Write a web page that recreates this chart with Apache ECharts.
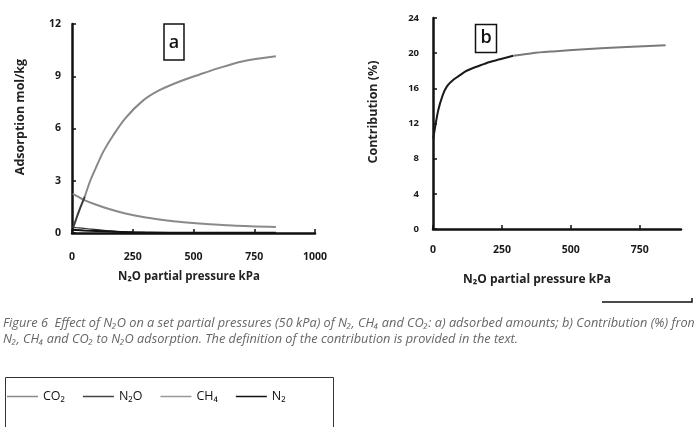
<!DOCTYPE html>
<html><head><meta charset="utf-8">
<script src="https://cdn.jsdelivr.net/npm/echarts@6/dist/echarts.min.js"></script>
<style>html,body{margin:0;padding:0;background:#fff}#c{width:694px;height:427px}</style>
</head><body><div id="c"></div>
<script>
// ---- data ----
const xTicksA = [0, 250, 500, 750, 1000];
const yTicksA = [0, 3, 6, 9, 12];
const xTicksB = [0, 250, 500, 750];
const yTicksB = [0, 4, 8, 12, 16, 20, 24];
const seriesNames = ['CO₂', 'N₂O', 'CH₄', 'N₂'];
const co2A = [[3,2.26],[20,2.12],[46,1.92],[100,1.62],[156,1.36],[220,1.12],[292,0.92],[360,0.78],[429,0.66],[525,0.55],[661,0.43],[839,0.34]];
const n2oA = [[4,0.3],[12,0.6],[30,1.3],[53,2.1],[75,3.0],[100,3.8],[130,4.7],[169,5.6],[220,6.6],[292,7.6],[360,8.2],[443,8.7],[525,9.1],[600,9.45],[700,9.85],[839,10.15]];
const ch4A = [[3,0.32],[20,0.3],[40,0.28],[80,0.22],[130,0.15],[200,0.08],[300,0.04],[500,0.02],[839,0.01]];
const n2A = [[3,0.18],[20,0.17],[50,0.15],[100,0.12],[180,0.07],[250,0.04],[400,0.02],[839,0.01]];
const contribB = [[1,10.3],[19,13.5],[35,15.2],[50,16.2],[75,17.0],[98,17.5],[122,18.0],[170,18.6],[206,19.0],[243,19.3],[291,19.7],[360,20.0],[436,20.2],[550,20.45],[702,20.7],[844,20.9]];
const captionLines = [
  'Figure 6  Effect of N₂O on a set partial pressures (50 kPa) of N₂, CH₄ and CO₂: a) adsorbed amounts; b) Contribution (%) from',
  'N₂, CH₄ and CO₂ to N₂O adsorption. The definition of the contribution is provided in the text.'
];

const FF = '"Open Sans", Lato, sans-serif';
const chart = echarts.init(document.getElementById('c'));
// the reference draws the start of these curves darker: split each at a data point
const splitAt = (arr, x) => [arr.filter(p => p[0] <= x), arr.filter(p => p[0] >= x)];
const [n2oDark, n2oGray] = splitAt(n2oA, 53);
const [contribDark, contribGray] = splitAt(contribB, 291);

function xAxisCfg(grid, max, ticks, margin) {
  return {
    type: 'value', gridIndex: grid, min: 0, max: max, interval: 250,
    axisLine: {show: true, onZero: false, lineStyle: {color: '#111', width: 2.5}},
    axisTick: {show: true, inside: true, length: 4, customValues: ticks, lineStyle: {color: '#111', width: 1.5}},
    axisLabel: {margin: margin, customValues: ticks, formatter: v => String(v), fontFamily: FF, fontWeight: 'bold', fontSize: 10.5, color: '#1a1a1a'},
    splitLine: {show: false}
  };
}
function yAxisCfg(grid, max, interval, margin, fs) {
  return {
    type: 'value', gridIndex: grid, min: 0, max: max, interval: interval,
    axisLine: {show: true, onZero: false, lineStyle: {color: '#111', width: 2.5}},
    axisTick: {show: true, inside: true, length: 4, lineStyle: {color: '#111', width: 1.5}},
    axisLabel: {margin: margin, formatter: v => String(v), fontFamily: FF, fontWeight: 'bold', fontSize: fs, color: '#1a1a1a'},
    splitLine: {show: false}
  };
}
const lineSeries = (name, xi, data, color, width) => ({
  name: name, type: 'line', xAxisIndex: xi, yAxisIndex: xi, data: data, symbol: 'none', smooth: 0.3,
  lineStyle: {color: color, width: width}, itemStyle: {color: color}
});

chart.setOption({
  animation: false,
  backgroundColor: '#fff',
  grid: [
    {left: 72, top: 24, width: 243, height: 209},
    {left: 433, top: 18, width: 248, height: 211}
  ],
  xAxis: [xAxisCfg(0, 1000, xTicksA, 19), xAxisCfg(1, 900, xTicksB, 16)],
  yAxis: [yAxisCfg(0, 12, 3, 11, 10.5), yAxisCfg(1, 24, 4, 14, 9.5)],
  legend: {
    left: 7, top: 390, padding: 0, icon: 'rect', itemWidth: 31, itemHeight: 1.5, itemGap: 18,
    textStyle: {fontFamily: FF, fontSize: 12.5, color: '#111'},
    data: [
      {name: seriesNames[0], itemStyle: {color: '#8a8a8a'}},
      {name: seriesNames[1], itemStyle: {color: '#444'}},
      {name: seriesNames[2], itemStyle: {color: '#999'}},
      {name: seriesNames[3], itemStyle: {color: '#111'}}
    ]
  },
  series: [
    lineSeries(seriesNames[0], 0, co2A, '#8a8a8a', 2),
    lineSeries(seriesNames[1], 0, n2oDark, '#3a3a3a', 2),
    lineSeries(seriesNames[1], 0, n2oGray, '#888', 2),
    lineSeries(seriesNames[2], 0, ch4A, '#333', 1.2),
    lineSeries(seriesNames[3], 0, n2A, '#111', 2),
    lineSeries('Contribution', 1, contribDark, '#1a1a1a', 2),
    lineSeries('Contribution', 1, contribGray, '#7a7a7a', 2)
  ],
  graphic: [
    {type: 'text', x: 20, y: 117, rotation: Math.PI / 2,
     style: {text: 'Adsorption mol/kg', align: 'center', verticalAlign: 'middle', font: 'bold 12.5px ' + FF, fill: '#222'}},
    {type: 'text', x: 189, y: 277,
     style: {text: 'N₂O partial pressure kPa', align: 'center', verticalAlign: 'middle', font: 'bold 11.5px ' + FF, fill: '#222'}},
    {type: 'text', x: 373, y: 112, rotation: Math.PI / 2,
     style: {text: 'Contribution (%)', align: 'center', verticalAlign: 'middle', font: 'bold 12.5px ' + FF, fill: '#222'}},
    {type: 'text', x: 537, y: 280,
     style: {text: 'N₂O partial pressure kPa', align: 'center', verticalAlign: 'middle', font: 'bold 12px ' + FF, fill: '#222'}},
    {type: 'rect', shape: {x: 164, y: 24, width: 20, height: 36}, style: {fill: '#fff', stroke: '#111', lineWidth: 1.5}, z: 10},
    {type: 'text', x: 174, y: 43, z: 11, style: {text: 'a', align: 'center', verticalAlign: 'middle', font: '600 18px ' + FF, fill: '#111'}},
    {type: 'rect', shape: {x: 475.5, y: 24.5, width: 21, height: 28}, style: {fill: '#fff', stroke: '#111', lineWidth: 1.5}, z: 10},
    {type: 'text', x: 486, y: 38, z: 11, style: {text: 'b', align: 'center', verticalAlign: 'middle', font: '600 18px ' + FF, fill: '#111'}},
    {type: 'polyline', shape: {points: [[602, 302], [692, 302], [692, 298]]}, style: {stroke: '#111', lineWidth: 1.5, fill: 'none'}},
    {type: 'text', x: 3, y: 323, style: {text: captionLines[0], verticalAlign: 'middle', font: 'italic 12.75px ' + FF, fill: '#666'}},
    {type: 'text', x: 3, y: 339, style: {text: captionLines[1], verticalAlign: 'middle', font: 'italic 12.75px ' + FF, fill: '#666'}},
    {type: 'rect', shape: {x: 5.5, y: 377.5, width: 328, height: 70}, style: {fill: 'none', stroke: '#333', lineWidth: 1}}
  ]
});
</script></body></html>
